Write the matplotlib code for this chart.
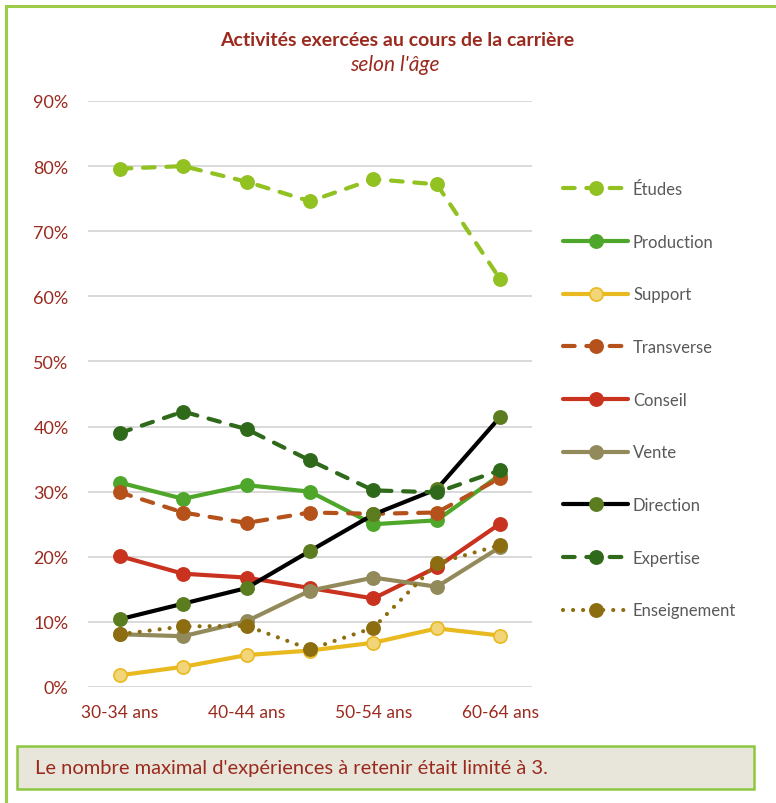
import matplotlib
matplotlib.use("Agg")
import matplotlib.pyplot as plt
from matplotlib.patches import Rectangle
from matplotlib.lines import Line2D
from matplotlib.ticker import PercentFormatter

plt.rcParams['font.family'] = ['Lato', 'DejaVu Sans']

# data
age_groups = ["30-34 ans", "35-39 ans", "40-44 ans", "45-49 ans", "50-54 ans", "55-59 ans", "60-64 ans"]
tick_labels = ["30-34 ans", "", "40-44 ans", "", "50-54 ans", "", "60-64 ans"]

etudes = [79.6, 80.0, 77.6, 74.6, 78.0, 77.2, 62.6]
production = [31.4, 28.9, 31.0, 30.0, 25.0, 25.6, 32.6]
support = [1.8, 3.1, 4.9, 5.6, 6.8, 9.0, 7.9]
transverse = [29.9, 26.8, 25.2, 26.8, 26.6, 26.8, 32.1]
conseil = [20.1, 17.4, 16.8, 15.2, 13.6, 18.4, 25.1]
vente = [8.1, 7.8, 10.1, 14.8, 16.8, 15.4, 21.5]
direction = [10.4, 12.8, 15.2, 20.9, 26.5, 30.4, 41.5]
expertise = [39.0, 42.3, 39.6, 34.8, 30.2, 29.9, 33.3]
enseignement = [8.1, 9.3, 9.4, 5.8, 9.1, 19.0, 21.8]

series = [
    ("Études", etudes, "#92C122", "#92C122", "#92C122", "dash"),
    ("Production", production, "#4EA72A", "#4EA72A", "#4EA72A", "solid"),
    ("Support", support, "#E9B920", "#F2D579", "#E9B920", "solid"),
    ("Transverse", transverse, "#B5521B", "#B5521B", "#B5521B", "dash"),
    ("Conseil", conseil, "#C9321F", "#C9321F", "#C9321F", "solid"),
    ("Vente", vente, "#938A5C", "#938A5C", "#938A5C", "solid"),
    ("Direction", direction, "#000000", "#5B7D1F", "#5B7D1F", "solid"),
    ("Expertise", expertise, "#2E6A1A", "#2E6A1A", "#2E6A1A", "dash"),
    ("Enseignement", enseignement, "#8C6D0F", "#8C6D0F", "#8C6D0F", "dot"),
]

W, H = 776, 804
fig = plt.figure(figsize=(W / 100, H / 100), dpi=100)

red = "#9B2A1E"

# outer green frame: only left and top edges are visible in the crop
frame_col = "#9CCB4A"
fig.lines.append(Line2D([6 / W, 6 / W], [0, 1 - 7 / H], transform=fig.transFigure,
                        color=frame_col, linewidth=2.2))
fig.lines.append(Line2D([6 / W, 1], [1 - 7 / H, 1 - 7 / H], transform=fig.transFigure,
                        color=frame_col, linewidth=2.2))

ax = fig.add_axes([88 / W, 1 - 688 / H, (532 - 88) / W, (688 - 102) / H])
x = list(range(len(age_groups)))

for name, vals, lc, mfc, mec, style in series:
    line, = ax.plot(x, vals, color=lc, linewidth=3.0, marker="o", markersize=9.5,
                    markerfacecolor=mfc, markeredgecolor=mec, markeredgewidth=1.2,
                    label=name, clip_on=False, solid_capstyle="round")
    if style == "dash":
        line.set_dashes((2.8, 2.8))
        line.set_dash_capstyle("round")
    elif style == "dot":
        line.set_dashes((0.01, 2.4))
        line.set_dash_capstyle("round")

ax.set_xlim(-0.5, len(age_groups) - 0.5)
ax.set_ylim(0, 90)
ax.set_yticks(range(0, 91, 10))
ax.yaxis.set_major_formatter(PercentFormatter(decimals=0))
ax.set_xticks(x)
ax.set_xticklabels(tick_labels)
ax.tick_params(axis="y", length=0, labelsize=13, labelcolor=red, pad=14)
ax.tick_params(axis="x", length=0, labelsize=12.5, labelcolor=red, pad=12)
ax.grid(axis="y", color="#D9D9D9", linewidth=1.4)
ax.set_axisbelow(True)
for s in ax.spines.values():
    s.set_visible(False)

leg = ax.legend(loc="upper left", bbox_to_anchor=(563 / W, 1 - 182 / H), bbox_transform=fig.transFigure,
                frameon=False, fontsize=12, labelcolor="#595959", handlelength=3.9,
                handletextpad=0.3, labelspacing=2.2, borderpad=0, borderaxespad=0)

fig.text(397 / W, 1 - 40 / H, "Activités exercées au cours de la carrière", ha="center", va="center",
         fontsize=14, fontweight="bold", color=red)
fig.text(395 / W, 1 - 65 / H, "selon l'âge", ha="center", va="center",
         fontsize=15, style="italic", color=red)

# note box
fig.patches.append(Rectangle((17 / W, 1 - 790 / H), (754 - 17) / W, (790 - 747) / H,
                             transform=fig.transFigure, facecolor="#E8E5DA", edgecolor="#8DC63F",
                             linewidth=1.8))
fig.text(35 / W, 1 - 769 / H, "Le nombre maximal d'expériences à retenir était limité à 3.",
         ha="left", va="center", fontsize=14.5, color=red)

fig.savefig("out.png", dpi=100)
